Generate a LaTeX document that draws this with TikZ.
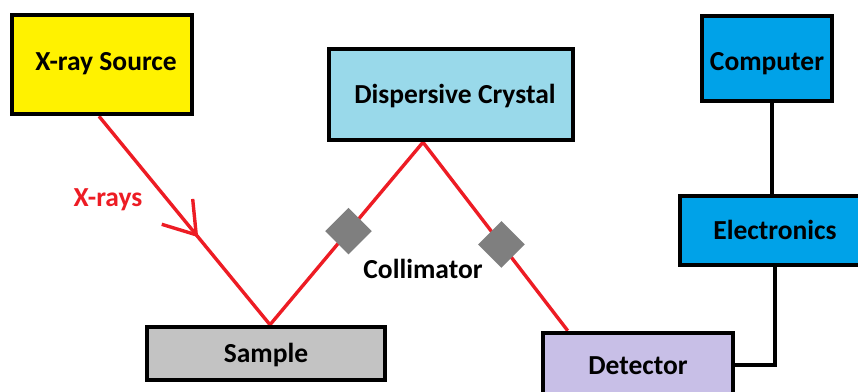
\documentclass[tikz,border=0pt]{standalone}
\usepackage{fontspec}
\setmainfont{Carlito}
\usetikzlibrary{calc,backgrounds,arrows.meta,decorations.markings}
\definecolor{pyellow}{HTML}{FFF200}
\definecolor{pcrystal}{HTML}{99D9EA}
\definecolor{psample}{HTML}{C3C3C3}
\definecolor{pdet}{HTML}{C8BFE7}
\definecolor{pblue}{HTML}{00A2E8}
\definecolor{pgray}{HTML}{7F7F7F}
\definecolor{pred}{HTML}{ED1C24}
\tikzset{
  box/.style={draw=black, line width=4.5pt, rectangle, inner sep=0pt,
    font=\fontsize{27.5}{32}\selectfont\bfseries, text=black,
    text height=18pt, text depth=0pt},
  beam/.style={draw=pred, line width=3.4pt},
  wire/.style={draw=black, line width=4pt},
  collim/.style={rectangle, fill=pgray, minimum size=33pt, rotate=45, inner sep=0pt},
  lbl/.style={font=\fontsize{27.5}{32}\selectfont\bfseries, inner sep=0pt},
}
\begin{document}
\begin{tikzpicture}[x=1pt,y=-1pt]
\useasboundingbox (0,0) rectangle (858,391);
\clip (0,0) rectangle (858,391);
% boxes
\node[box, fill=pyellow, minimum width=180pt, minimum height=99pt] (src) at (102,64.5) {\hspace*{8pt}\raisebox{3pt}{X-ray Source}};
\node[box, fill=pcrystal, minimum width=244pt, minimum height=91pt] (crys) at (451,94.5) {\hspace*{8pt}Dispersive Crystal};
\node[box, fill=psample, minimum width=238pt, minimum height=53pt] (samp) at (266,353.5) {Sample};
\node[box, fill=pdet, minimum width=190pt, minimum height=64pt] (det) at (638,365) {Detector};
\node[box, fill=pblue, minimum width=190pt, minimum height=69pt] (elec) at (775,230.5) {Electronics};
\node[box, fill=pblue, minimum width=130pt, minimum height=85pt] (comp) at (767,58.5) {\raisebox{-3pt}{Computer}};
% beam points
\coordinate (s0) at ($(src.south)+(-3,0)$);
\coordinate (hit) at ($(samp.north)+(4,0)$);
\coordinate (c0) at ($(crys.south)+(-28,0)$);
\coordinate (d0) at ($(det.north west)+(27,0)$);
\begin{scope}[on background layer]
\draw[beam, postaction={decorate}, decoration={markings,
   mark=at position 0.58 with {\arrow[pred]{Straight Barb[length=30pt,width=40pt,line width=3.4pt]}}}]
   (s0) -- (hit);
\draw[beam] (hit) -- node[collim, pos=0.513] (col1) {} (c0);
\draw[beam] (c0) -- node[collim, pos=0.542] (col2) {} (d0);
\end{scope}
% labels
\node[lbl, text=pred] (xr) at (108,200) {X-rays};
\node[lbl, text=black] (coll) at (423,269) {Collimator};
% wires
\draw[wire] ([xshift=5pt]comp.south) -- ([xshift=5pt]comp.south |- elec.north);
\draw[wire] (elec.south) |- (det.east);
\end{tikzpicture}
\end{document}
